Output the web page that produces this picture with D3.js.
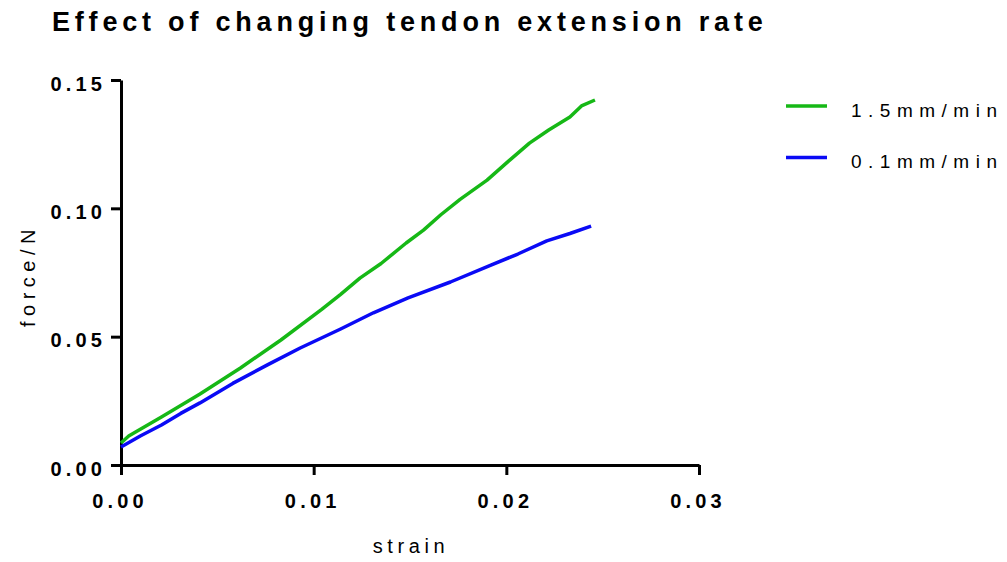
<!DOCTYPE html>
<html>
<head>
<meta charset="utf-8">
<script src="https://cdn.jsdelivr.net/npm/d3@7"></script>
<style>
  body { margin: 0; background: #fff; }
  text { font-family: "Liberation Sans", Arial, sans-serif; }
</style>
</head>
<body>
<script>
// data
var seriesNames = ["1.5mm/min", "0.1mm/min"];
var seriesColors = ["#16b816", "#0a0af5"];
var fastStrain = [0, 0.0004, 0.0021, 0.0041, 0.0062, 0.0083, 0.0104, 0.0114, 0.0124, 0.0135, 0.0148, 0.0157, 0.0166, 0.0176, 0.019, 0.0201, 0.0212, 0.0222, 0.0233, 0.0239, 0.0246];
var fastForce  = [0.0086, 0.0113, 0.0187, 0.0277, 0.0378, 0.0487, 0.0605, 0.0665, 0.0728, 0.0785, 0.0865, 0.0915, 0.0975, 0.1035, 0.111, 0.1183, 0.1254, 0.1305, 0.1356, 0.1399, 0.1422];
var slowStrain = [0, 0.001, 0.0021, 0.0031, 0.0041, 0.0058, 0.0076, 0.0093, 0.0114, 0.0131, 0.0149, 0.0171, 0.0192, 0.0206, 0.0221, 0.0233, 0.0244];
var slowForce  = [0.007, 0.0113, 0.0156, 0.0201, 0.0242, 0.0318, 0.039, 0.0456, 0.053, 0.0593, 0.0651, 0.0713, 0.0779, 0.0822, 0.0873, 0.0902, 0.0931];
var xTicks = [0, 0.01, 0.02, 0.03];
var yTicks = [0, 0.05, 0.10, 0.15];

var width = 1007, height = 562;
var svg = d3.select("body").append("svg")
    .attr("width", width)
    .attr("height", height);

var x = d3.scaleLinear().domain([0, 0.03]).range([121, 699]);
var y = d3.scaleLinear().domain([0, 0.15]).range([465, 80]);

// title
svg.append("text")
    .attr("x", 52)
    .attr("y", 31)
    .text("Effect of changing tendon extension rate")
    .attr("font-size", "27px")
    .attr("font-weight", "bold")
    .style("letter-spacing", "4.8px")
    .attr("fill", "#000");

// axes
var tickSpacing = 4.2;
var xAxis = svg.append("g")
    .attr("transform", "translate(0," + y(0) + ")")
    .call(d3.axisBottom(x).tickValues(xTicks).tickSize(10).tickSizeOuter(0).tickFormat(d3.format(".2f")));
var yAxis = svg.append("g")
    .attr("transform", "translate(" + x(0) + ",0)")
    .call(d3.axisLeft(y).tickValues(yTicks).tickSize(10).tickSizeOuter(0).tickFormat(d3.format(".2f")));

[xAxis, yAxis].forEach(function(g){
    g.select(".domain").attr("stroke", "#000").attr("stroke-width", 3);
    g.selectAll(".tick line").attr("stroke", "#000").attr("stroke-width", 3);
    g.selectAll(".tick text")
        .attr("font-family", "Liberation Sans, Arial, sans-serif")
        .attr("font-size", "20px")
        .attr("font-weight", "bold")
        .attr("fill", "#000")
        .style("letter-spacing", tickSpacing + "px");
});
xAxis.selectAll(".tick text").attr("y", 43).attr("dy", 0).attr("dx", -1.5);
yAxis.selectAll(".tick text").attr("x", -19 + tickSpacing).attr("dy", 0).attr("y", 10);

// axis titles
svg.append("text")
    .attr("x", x(0.015) + 1)
    .attr("y", 553)
    .attr("text-anchor", "middle")
    .text("strain")
    .attr("font-size", "20px")
    .style("letter-spacing", "4.6px")
    .attr("fill", "#000");

svg.append("text")
    .attr("transform", "translate(35," + (y(0.075) + 3) + ") rotate(-90)")
    .attr("text-anchor", "middle")
    .text("force/N")
    .attr("font-size", "20px")
    .style("letter-spacing", "5.5px")
    .attr("fill", "#000");

// data lines
var line = d3.line()
    .x(function(d){ return x(d[0]); })
    .y(function(d){ return y(d[1]); });

var series = [
    d3.zip(fastStrain, fastForce),
    d3.zip(slowStrain, slowForce)
];

svg.selectAll("path.series")
    .data(series).enter()
    .append("path")
    .attr("class", "series")
    .attr("d", line)
    .attr("fill", "none")
    .attr("stroke", function(d, i){ return seriesColors[i]; })
    .attr("stroke-width", 3.5)
    .attr("stroke-linejoin", "round");

// legend
var legend = svg.selectAll("g.legend")
    .data(seriesNames).enter()
    .append("g")
    .attr("class", "legend")
    .attr("transform", function(d, i){ return "translate(786," + (106 + 51.5 * i) + ")"; });

legend.append("line")
    .attr("x1", 0)
    .attr("x2", 41)
    .attr("stroke", function(d, i){ return seriesColors[i]; })
    .attr("stroke-width", 3.5);

legend.append("text")
    .attr("x", 65)
    .attr("y", 10.5)
    .text(function(d){ return d; })
    .attr("font-size", "19px")
    .style("letter-spacing", "6.5px")
    .attr("fill", "#000");
</script>
</body>
</html>
